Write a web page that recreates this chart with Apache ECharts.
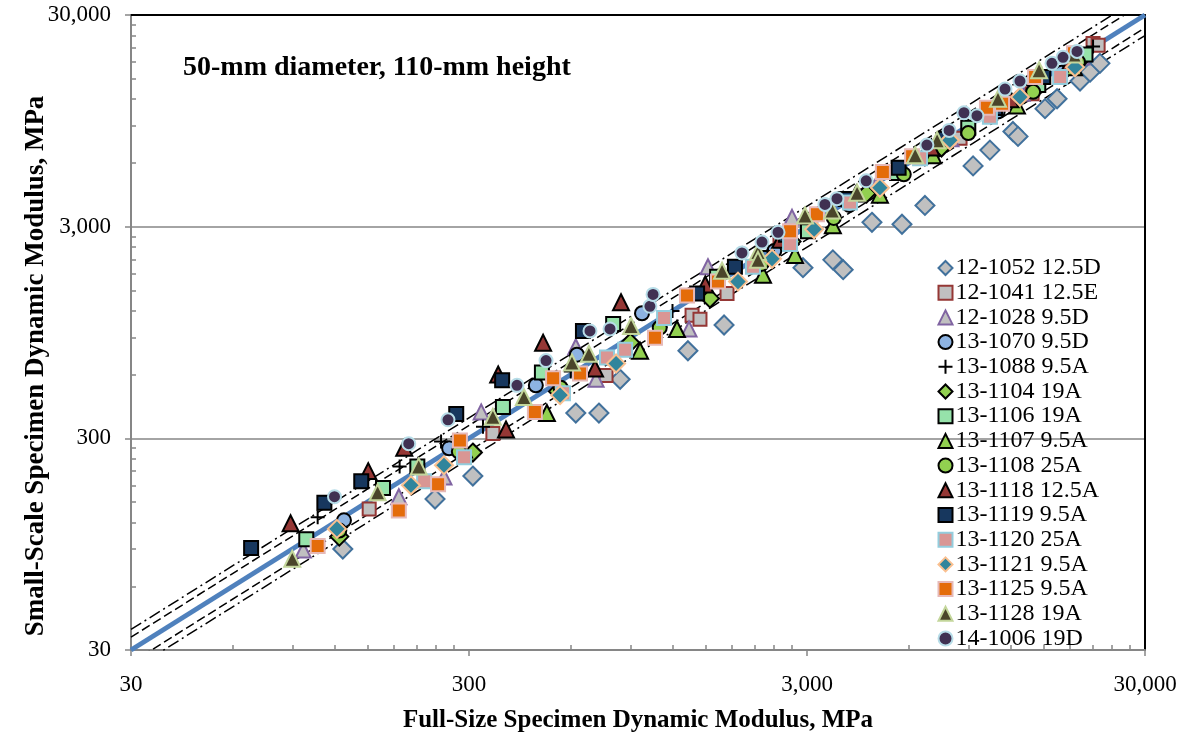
<!DOCTYPE html>
<html>
<head>
<meta charset="utf-8">
<script src="https://cdn.jsdelivr.net/npm/echarts@6/dist/echarts.min.js"></script>
<style>
  html, body { margin: 0; padding: 0; background: #fff; }
  #chart { width: 1186px; height: 738px; }
</style>
</head>
<body>
<div id="chart"></div>
<script>
// axis ticks (MPa)
const majorTicks = [30, 300, 3000, 30000];
const minorTicks = [60, 90, 120, 150, 180, 210, 240, 270,
  600, 900, 1200, 1500, 1800, 2100, 2400, 2700,
  6000, 9000, 12000, 15000, 18000, 21000, 24000, 27000];

// bounds around the line of equality
const equalityLine = [[30, 30], [30000, 30000]];
const boundFactors = [1.15, 1.25, 1 / 1.15, 1 / 1.25];

// [full-size, small-scale] dynamic modulus, MPa
const s12_1052 = [[127, 90], [238, 155], [308, 199], [621, 395], [727, 395], [840, 570], [1333, 778], [1705, 1029],
  [2919, 1920], [3578, 2091], [3838, 1879], [4670, 3146], [5730, 3079], [6700, 3780], [9300, 5810], [10430, 6900],
  [12200, 8450], [12630, 8010], [15180, 10830], [16480, 12060], [19270, 14620], [20640, 16110], [22070, 17730]];
const s12_1041 = [[152, 139], [353, 316], [763, 595], [1371, 1146], [1447, 1097], [1740, 1451], [2496, 2678],
  [4590, 4580], [8510, 7840], [13900, 12720], [21060, 21990], [21800, 21600]];
const s12_1028 = [[97, 89], [186, 159], [253, 197], [326, 400], [621, 813], [713, 570], [1343, 986], [1528, 1940],
  [2709, 3320], [4800, 4700], [8000, 7800], [13000, 12800], [19500, 19000]];
const s13_1070 = [[128, 123], [262, 269], [473, 534], [626, 745], [975, 1170], [2400, 2300], [4000, 3800],
  [6800, 6500], [11000, 10500], [17000, 16000]];
const s13_1088 = [[107, 127], [187, 221], [248, 290], [330, 340], [600, 620], [1200, 1200], [2300, 2300],
  [4500, 4500], [9000, 9000], [14000, 14000], [21060, 21300]];
const s13_1104 = [[124, 103], [308, 257], [550, 500], [900, 850], [1549, 1375], [2700, 2550], [4500, 4300],
  [7500, 7100], [12500, 11800], [19000, 18000]];
const s13_1106 = [[99, 100], [167, 175], [211, 221], [378, 422], [493, 614], [801, 1040], [1626, 1742],
  [3020, 2857], [5540, 5385], [9000, 8800], [14500, 14000], [20000, 19500]];
const s13_1107 = [[290, 266], [510, 395], [962, 778], [1237, 986], [2223, 1779], [2764, 2207], [3578, 3048],
  [4930, 4250], [7080, 6530], [12540, 11200], [18500, 17000]];
const s13_1108 = [[124, 110], [280, 260], [560, 520], [1100, 1000], [2200, 2000], [3600, 3300], [5800, 5300],
  [9000, 8300], [14000, 13000], [19000, 18000]];
const s13_1118 = [[89, 119], [151, 210], [193, 271], [366, 601], [386, 330], [497, 848], [708, 641], [845, 1318],
  [1500, 1600], [2500, 2600], [4200, 4300], [7000, 7100], [12000, 12000], [18000, 18000]];
const s13_1119 = [[68, 91], [112, 149], [144, 188], [275, 391], [376, 564], [652, 965], [1419, 1451], [1836, 1940],
  [2600, 2750], [3900, 4050], [5600, 5700], [7700, 7800], [10800, 10900], [15000, 15300]];
const s13_1120 = [[221, 188], [290, 244], [569, 490], [768, 722], [869, 787], [1133, 1110], [2076, 1940],
  [2673, 2484], [4020, 3900], [6480, 6320], [10430, 9930], [16830, 15270]];
const s13_1121 = [[122, 112], [202, 180], [253, 224], [558, 480], [817, 677], [1875, 1650], [2364, 2115],
  [3150, 2916], [4930, 4580], [7940, 7680], [12800, 12300], [18620, 16990]];
const s13_1125 = [[107, 93], [186, 137], [243, 182], [282, 293], [470, 400], [532, 576], [639, 608], [1065, 895],
  [1325, 1420], [1636, 1650], [2673, 2857], [3210, 3430], [5030, 5440], [6140, 6460], [10220, 10940],
  [11330, 11430], [14190, 15270], [18500, 19800]];
const s13_1128 = [[90, 81], [161, 167], [213, 221], [353, 379], [436, 470], [605, 684], [679, 753], [905, 1018],
  [1682, 1858], [2148, 2280], [2148, 2091], [2960, 3390], [3560, 3580], [4220, 4340], [6270, 6530], [7280, 7680],
  [11020, 12060], [14580, 16450], [18500, 19500]];
const s14_1006 = [[120, 159], [199, 283], [260, 367], [416, 534], [507, 699], [684, 965], [784, 986], [1029, 1262],
  [1051, 1436], [1926, 2255], [2208, 2536], [2463, 2823], [3390, 3820], [3680, 4070], [4490, 4940], [6790, 7290],
  [7900, 8550], [8740, 10360], [9550, 10030], [11560, 13400], [12800, 14620], [15920, 17730], [17160, 18930],
  [18880, 20190]];

const FONT = "'Liberation Serif', 'Times New Roman', serif";
const chart = echarts.init(document.getElementById('chart'));

// 散点系列
const sc = (name, data, symbol, size, fill, border) => ({
  name, type: 'scatter', data, symbol, symbolSize: size,
  itemStyle: { color: fill, borderColor: border, borderWidth: 2, opacity: 1 },
  emphasis: { disabled: true }
});
const plus = 'path://M0,5H10M5,0V10';

const points = [
  sc('12-1052 12.5D', s12_1052, 'diamond', 19, '#C0C0C0', '#41719C'),
  sc('12-1041 12.5E', s12_1041, 'rect', 13, '#C0C0C0', '#953735'),
  sc('12-1028 9.5D', s12_1028, 'triangle', 15, '#C0C0C0', '#8064A2'),
  sc('13-1070 9.5D', s13_1070, 'circle', 14, '#8DB3E2', '#000'),
  sc('13-1088 9.5A', s13_1088, plus, 14, 'none', '#000'),
  sc('13-1104 19A', s13_1104, 'diamond', 18, '#92D050', '#000'),
  sc('13-1106 19A', s13_1106, 'rect', 14, '#96E2AA', '#000'),
  sc('13-1107 9.5A', s13_1107, 'triangle', 16, '#92D050', '#000'),
  sc('13-1108 25A', s13_1108, 'circle', 14, '#92D050', '#000'),
  sc('13-1118 12.5A', s13_1118, 'triangle', 16, '#953735', '#000'),
  sc('13-1119 9.5A', s13_1119, 'rect', 14, '#17375E', '#000'),
  sc('13-1120 25A', s13_1120, 'rect', 14, '#D99694', '#93CDDD'),
  sc('13-1121 9.5A', s13_1121, 'diamond', 18, '#31859C', '#FAC090'),
  sc('13-1125 9.5A', s13_1125, 'rect', 14, '#E46C0A', '#E6B9B8'),
  sc('13-1128 19A', s13_1128, 'triangle', 16, '#4A452A', '#C3D69B'),
  sc('14-1006 19D', s14_1006, 'circle', 13, '#403152', '#B7DDE8')
];

// 等值线及上下界
const boundDash = [[9, 4], [12, 4, 2, 4], [9, 4], [12, 4, 2, 4]];
const lines = [{
  type: 'line', data: equalityLine, symbol: 'none', silent: true, z: 1,
  lineStyle: { color: '#4F81BD', width: 5 }
}].concat(boundFactors.map((k, i) => ({
  type: 'line', data: equalityLine.map(p => [p[0], p[1] * k]), symbol: 'none', silent: true, z: 1,
  lineStyle: { color: '#000', width: 1.5, type: boundDash[i] }
})));

const axisGray = '#868686';
const logAxis = { type: 'log', logBase: 10, min: 30, max: 30000 };
const fmt = v => Number(v).toLocaleString('en-US');

const option = {
  animation: false,
  backgroundColor: '#fff',
  title: {
    text: '50-mm diameter, 110-mm height',
    left: 178, top: 49,
    textStyle: { fontFamily: FONT, fontWeight: 'bold', fontSize: 28, color: '#000' }
  },
  legend: {
    orient: 'vertical', left: 936, top: 256, padding: 0,
    itemWidth: 14, itemHeight: 14, itemGap: 0.7,
    selectedMode: false,
    data: points.map(s => s.name),
    textStyle: { fontFamily: FONT, fontSize: 24, lineHeight: 23, color: '#000', padding: [0, 0, 0, -2] }
  },
  grid: { left: 131, right: 41, top: 15, bottom: 80 },
  xAxis: [
    Object.assign({}, logAxis, {
      position: 'bottom',
      name: 'Full-Size Specimen Dynamic Modulus, MPa',
      nameLocation: 'middle', nameGap: 58,
      nameTextStyle: { fontFamily: FONT, fontWeight: 'bold', fontSize: 25, color: '#000' },
      axisLine: { lineStyle: { color: axisGray, width: 2 } },
      axisTick: { customValues: majorTicks, length: 6, lineStyle: { color: axisGray, width: 1.5 } },
      axisLabel: { customValues: majorTicks, formatter: fmt, margin: 23, fontFamily: FONT, fontSize: 23, color: '#000' },
      splitLine: { show: false }
    }),
    Object.assign({}, logAxis, {
      position: 'bottom',
      axisLine: { show: false },
      axisTick: { customValues: minorTicks, inside: true, length: 5, lineStyle: { color: axisGray, width: 1.5 } },
      axisLabel: { show: false },
      splitLine: { show: false }
    }),
    Object.assign({}, logAxis, {
      position: 'top',
      axisLine: { lineStyle: { color: '#000', width: 2 } },
      axisTick: { show: false }, axisLabel: { show: false }, splitLine: { show: false }
    })
  ],
  yAxis: [
    Object.assign({}, logAxis, {
      position: 'left',
      axisLine: { lineStyle: { color: axisGray, width: 2 } },
      axisTick: { customValues: majorTicks, length: 6, lineStyle: { color: axisGray, width: 1.5 } },
      axisLabel: { customValues: majorTicks, formatter: fmt, margin: 20, fontFamily: FONT, fontSize: 23, color: '#000' },
      splitLine: { show: true, lineStyle: { color: axisGray, width: 1.5 } }
    }),
    Object.assign({}, logAxis, {
      position: 'left',
      axisLine: { show: false },
      axisTick: { customValues: minorTicks, inside: true, length: 5, lineStyle: { color: axisGray, width: 1.5 } },
      axisLabel: { show: false },
      splitLine: { show: false }
    }),
    Object.assign({}, logAxis, {
      position: 'right',
      axisLine: { lineStyle: { color: '#000', width: 2 } },
      axisTick: { show: false }, axisLabel: { show: false }, splitLine: { show: false }
    })
  ],
  graphic: [{
    type: 'text', x: 36, y: 366, rotation: Math.PI / 2,
    style: {
      text: 'Small-Scale Specimen Dynamic Modulus, MPa',
      fontFamily: FONT, fontWeight: 'bold', fontSize: 27, fill: '#000',
      align: 'center', verticalAlign: 'middle'
    }
  }],
  series: lines.concat(points)
};

chart.setOption(option);
</script>
</body>
</html>
